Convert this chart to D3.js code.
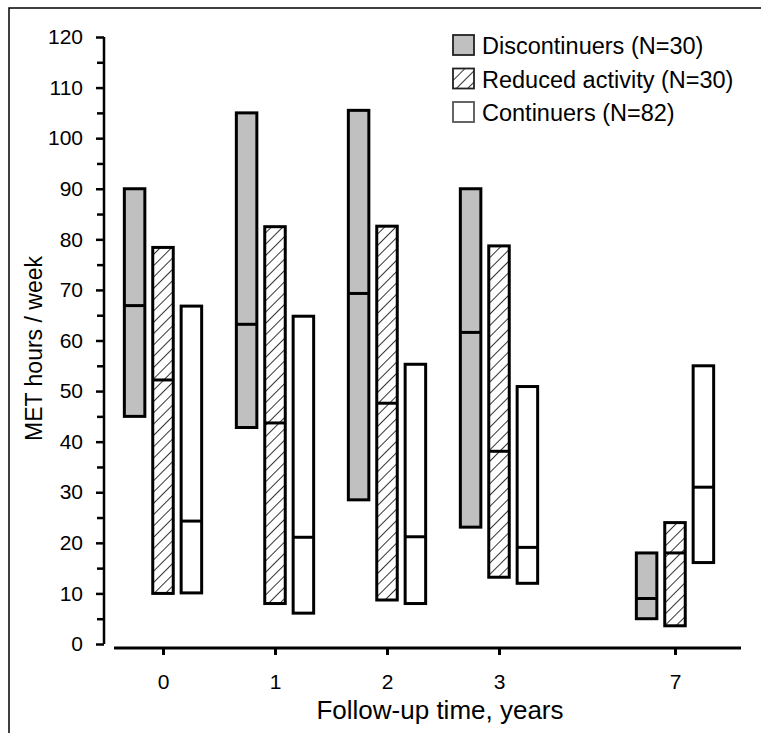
<!DOCTYPE html>
<html>
<head>
<meta charset="utf-8">
<script src="https://cdn.jsdelivr.net/npm/d3@7"></script>
<style>
  html, body { margin: 0; padding: 0; background: #fff; }
  svg { display: block; font-family: "Liberation Sans", Arial, Helvetica, sans-serif; }
</style>
</head>
<body>
<svg id="chart" width="761" height="733"></svg>
<script>
// Follow-up years (categories on the x axis)
const years = [0, 1, 2, 3, 7];
const seriesNames = ["Discontinuers (N=30)", "Reduced activity (N=30)", "Continuers (N=82)"];

// MET hours / week: lower edge, median and upper edge of each bar
const discLow  = [45, 42.8, 28.5, 23.1, 5];
const discMed  = [66.9, 63.2, 69.3, 61.6, 9];
const discHigh = [90, 105, 105.5, 90, 18];

const redLow  = [10, 8, 8.7, 13.2, 3.6];
const redMed  = [52.2, 43.7, 47.6, 38.1, 18];
const redHigh = [78.4, 82.5, 82.6, 78.7, 24];

const contLow  = [10.1, 6.1, 8, 12, 16.1];
const contMed  = [24.3, 21.1, 21.2, 19.1, 31];
const contHigh = [66.8, 64.8, 55.3, 50.9, 55];

const yTicks = [0, 10, 20, 30, 40, 50, 60, 70, 80, 90, 100, 110, 120];
const yMinorTicks = [5, 15, 25, 35, 45, 55, 65, 75, 85, 95, 105, 115];

const yLabel = "MET hours / week";
const xLabel = "Follow-up time, years";

const series = [
  { name: seriesNames[0], low: discLow, med: discMed, high: discHigh, fill: "#c0c0c0" },
  { name: seriesNames[1], low: redLow,  med: redMed,  high: redHigh,  fill: "url(#hatch)" },
  { name: seriesNames[2], low: contLow, med: contMed, high: contHigh, fill: "#ffffff" }
];

const svg = d3.select("#chart");

// diagonal hatching for the "reduced activity" bars
const defs = svg.append("defs");
const pat = defs.append("pattern")
  .attr("id", "hatch")
  .attr("patternUnits", "userSpaceOnUse")
  .attr("width", 8).attr("height", 8)
  .attr("patternTransform", "rotate(45)");
pat.append("rect").attr("width", 8).attr("height", 8).attr("fill", "#fff");
pat.append("line").attr("x1", 0).attr("y1", 0).attr("x2", 0).attr("y2", 8)
  .attr("stroke", "#000").attr("stroke-width", 1.6);

// outer frame (left and top edges)
svg.append("path")
  .attr("d", "M9,733 V8 H761")
  .attr("fill", "none").attr("stroke", "#000").attr("stroke-width", 1.5);

// scales: years 0-3 evenly spaced, then a compressed gap up to year 7
const x = d3.scaleLinear().domain([0, 3, 7]).range([163, 499, 675]);
const y = d3.scaleLinear().domain([0, 120]).range([644, 37]);
const offset = d3.scalePoint().domain(seriesNames).range([-28.4, 28.4]);
const barW = 20.5;

// y axis
const yAxisX = 104;
const gy = svg.append("g").attr("transform", `translate(${yAxisX},0)`);
gy.call(d3.axisLeft(y).tickValues(yTicks).tickSize(8).tickPadding(13).tickFormat(d3.format("d")));
gy.append("g").call(d3.axisLeft(y).tickValues(yMinorTicks).tickSize(7).tickFormat(""))
  .select(".domain").remove();
gy.selectAll(".domain").attr("stroke", "#000").attr("stroke-width", 2.5)
  .attr("d", `M0,${y(0)}V${y(120)}`);
gy.selectAll(".tick line").attr("stroke", "#000").attr("stroke-width", 2.5);
gy.selectAll(".tick text").attr("fill", "#000").style("font-size", "21px");

// x axis
const xAxisY = 648;
const gx = svg.append("g").attr("transform", `translate(0,${xAxisY})`);
gx.call(d3.axisBottom(x).tickValues(years).tickSize(7).tickPadding(19).tickFormat(d3.format("d")));
gx.select(".domain").attr("stroke", "#000").attr("stroke-width", 3).attr("d", "M114,0H741");
gx.selectAll(".tick line").attr("stroke", "#000").attr("stroke-width", 3);
gx.selectAll(".tick text").attr("fill", "#000").style("font-size", "21px");

// bars with median lines
series.forEach(s => {
  const g = svg.append("g");
  const rows = years.map((yr, i) => ({ yr, low: s.low[i], med: s.med[i], high: s.high[i] }));
  g.selectAll("rect").data(rows).join("rect")
    .attr("x", d => x(d.yr) + offset(s.name) - barW / 2)
    .attr("y", d => y(d.high))
    .attr("width", barW)
    .attr("height", d => y(d.low) - y(d.high))
    .attr("fill", s.fill)
    .attr("stroke", "#000").attr("stroke-width", 3);
  g.selectAll("line").data(rows).join("line")
    .attr("x1", d => x(d.yr) + offset(s.name) - barW / 2)
    .attr("x2", d => x(d.yr) + offset(s.name) + barW / 2)
    .attr("y1", d => y(d.med)).attr("y2", d => y(d.med))
    .attr("stroke", "#000").attr("stroke-width", 3);
});

// axis titles
svg.append("text")
  .attr("transform", `translate(42,${(y(0) + y(120)) / 2 + 8}) rotate(-90)`)
  .attr("text-anchor", "middle")
  .style("font-size", "23px")
  .text(yLabel);

svg.append("text")
  .attr("x", 440).attr("y", 719)
  .attr("text-anchor", "middle")
  .style("font-size", "26px")
  .text(xLabel);

// legend
const legend = svg.append("g").attr("transform", "translate(453,35)");
series.forEach((s, i) => {
  const row = legend.append("g").attr("transform", `translate(0,${i * 33.5})`);
  row.append("rect").attr("width", 21).attr("height", 20)
    .attr("fill", s.fill).attr("stroke", i === 2 ? "#555" : "#222").attr("stroke-width", 1.8);
  row.append("text").attr("x", 29).attr("y", 19)
    .style("font-size", "23.5px")
    .text(s.name);
});
</script>
</body>
</html>
